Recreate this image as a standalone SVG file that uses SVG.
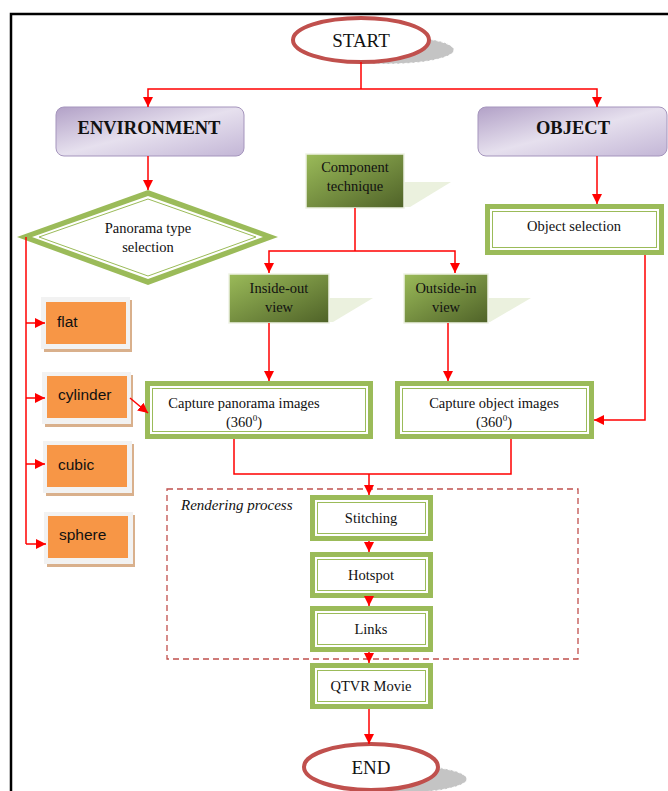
<svg xmlns="http://www.w3.org/2000/svg" width="668" height="791" viewBox="0 0 668 791">
<defs>
<linearGradient id="purple" x1="0" y1="0" x2="1" y2="1">
<stop offset="0" stop-color="#b2a1c7"/>
<stop offset="0.5" stop-color="#e6e0ee"/>
<stop offset="1" stop-color="#c3b6d6"/>
</linearGradient>
<linearGradient id="green" x1="0" y1="0" x2="1" y2="1">
<stop offset="0" stop-color="#9bbb59"/>
<stop offset="1" stop-color="#4f6228"/>
</linearGradient>
<marker id="arr" viewBox="0 0 10 10" refX="10" refY="5" markerWidth="10" markerHeight="10" markerUnits="userSpaceOnUse" orient="auto">
<path d="M0,0 L10,5 L0,10 z" fill="#ff0000"/>
</marker>
<style>
.frame{fill:none;stroke:#000;stroke-width:2.5}
.conn{fill:none;stroke:#ff0000;stroke-width:1.5}
.ca{fill:none;stroke:#ff0000;stroke-width:1.5;marker-end:url(#arr)}
.serif{font-family:"Liberation Serif","Times New Roman",serif;fill:#111;text-anchor:middle}
.t14{font-size:14.5px}
.sans{font-family:"Liberation Sans",Arial,sans-serif;font-size:15.5px;fill:#111}
.gthick{fill:#9bbb59}
.gwhite{fill:#fff}
.gthin{fill:none;stroke:#9bbb59;stroke-width:1}
.purple{fill:url(#purple);stroke:#a595bd;stroke-width:1}
.tech{fill:url(#green);stroke:#eef2e4;stroke-width:1.5}
.techshadow{fill:#ebf1de}
.oshadow{fill:#d9b08c}
.oframe{fill:#f2f2f2}
.orange{fill:#f79646}
.term{fill:#fff;stroke:#c0504d;stroke-width:4}
.tshadow{fill:#c4c4c4;stroke:#fff;stroke-width:1;stroke-dasharray:3 2}
</style>
</defs>
<rect width="668" height="791" fill="#fff"/>
<path class="frame" d="M11,791 L11,14 L668,14"/>

<g id="start">
<ellipse class="tshadow" cx="386" cy="50" rx="68" ry="14"/>
<ellipse class="term" cx="361" cy="40" rx="68" ry="22"/>
<text class="serif" x="361" y="47" font-size="19">START</text>
</g>

<g id="environment">
<rect class="purple" x="56" y="107" width="188" height="49" rx="8"/>
<text class="serif" x="149" y="134" font-size="18.5" font-weight="bold">ENVIRONMENT</text>
</g>

<g id="object">
<rect class="purple" x="478" y="107" width="189" height="49" rx="8"/>
<text class="serif" x="573" y="134" font-size="18.5" font-weight="bold">OBJECT</text>
</g>

<g id="panorama-type">
<polygon points="148,190 278,237 148,285 17,237" fill="#9bbb59"/>
<polygon points="148,196 263,237 148,279 32,237" fill="#fff"/>
<polygon points="148,199 256,237 148,276 39,237" class="gthin"/>
<text class="serif t14" x="148" y="233">Panorama type</text>
<text class="serif t14" x="148" y="252">selection</text>
</g>

<g id="component">
<polygon class="techshadow" points="400,182 451,182 410,207 400,207"/>
<rect class="tech" x="306" y="154" width="98" height="54"/>
<text class="serif t14" x="355" y="172">Component</text>
<text class="serif t14" x="355" y="191">technique</text>
</g>

<g id="inside-out">
<polygon class="techshadow" points="325,298 373,298 333,322 325,322"/>
<rect class="tech" x="229" y="274" width="100" height="49"/>
<text class="serif t14" x="279" y="293">Inside-out</text>
<text class="serif t14" x="279" y="312">view</text>
</g>

<g id="outside-in">
<polygon class="techshadow" points="484,298 531,298 490,322 484,322"/>
<rect class="tech" x="404" y="274" width="84" height="49"/>
<text class="serif t14" x="446" y="293">Outside-in</text>
<text class="serif t14" x="446" y="312">view</text>
</g>

<g id="object-selection">
<rect class="gthick" x="485" y="204" width="179" height="51"/>
<rect class="gwhite" x="490" y="209" width="169" height="41"/>
<rect class="gthin" x="492.5" y="211.5" width="164" height="36"/>
<text class="serif t14" x="574" y="231">Object selection</text>
</g>

<g id="flat">
<rect class="oshadow" x="44" y="300" width="88" height="52"/>
<rect class="oframe" x="41" y="297" width="89" height="52"/>
<rect class="orange" x="46" y="302" width="80" height="42"/>
<text class="sans" x="57" y="327">flat</text>
</g>
<g id="cylinder">
<rect class="oshadow" x="45" y="375" width="88" height="52"/>
<rect class="oframe" x="42" y="372" width="89" height="52"/>
<rect class="orange" x="47" y="376" width="80" height="42"/>
<text class="sans" x="58" y="400">cylinder</text>
</g>
<g id="cubic">
<rect class="oshadow" x="46" y="444" width="88" height="52"/>
<rect class="oframe" x="43" y="441" width="89" height="52"/>
<rect class="orange" x="47" y="445" width="80" height="42"/>
<text class="sans" x="58" y="470">cubic</text>
</g>
<g id="sphere">
<rect class="oshadow" x="47" y="515" width="88" height="52"/>
<rect class="oframe" x="44" y="512" width="89" height="52"/>
<rect class="orange" x="48" y="516" width="80" height="42"/>
<text class="sans" x="59" y="540">sphere</text>
</g>

<g id="capture-panorama">
<rect class="gthick" x="145" y="381" width="228" height="58"/>
<rect class="gwhite" x="150" y="386" width="218" height="48"/>
<rect class="gthin" x="152.5" y="388.5" width="213" height="43"/>
<text class="serif t14" x="244" y="408">Capture panorama images</text>
<text class="serif t14" x="244" y="427">(360<tspan font-size="9" dy="-6">0</tspan><tspan dy="6">)</tspan></text>
</g>

<g id="capture-object">
<rect class="gthick" x="395" y="381" width="199" height="58"/>
<rect class="gwhite" x="400" y="386" width="189" height="48"/>
<rect class="gthin" x="402.5" y="388.5" width="184" height="43"/>
<text class="serif t14" x="494" y="408">Capture object images</text>
<text class="serif t14" x="494" y="427">(360<tspan font-size="9" dy="-6">0</tspan><tspan dy="6">)</tspan></text>
</g>

<g id="rendering-process">
<rect x="167" y="489" width="411" height="170" fill="none" stroke="#c0504d" stroke-width="1.3" stroke-dasharray="6 4"/>
<text x="181" y="510" font-family="'Liberation Serif','Times New Roman',serif" font-size="15" font-style="italic" fill="#111">Rendering process</text>
</g>

<g id="stitching">
<rect class="gthick" x="310" y="495" width="123" height="46"/>
<rect class="gwhite" x="315" y="500" width="113" height="36"/>
<rect class="gthin" x="317.5" y="502.5" width="108" height="31"/>
<text class="serif t14" x="371" y="523">Stitching</text>
</g>
<g id="hotspot">
<rect class="gthick" x="310" y="552" width="123" height="46"/>
<rect class="gwhite" x="315" y="557" width="113" height="36"/>
<rect class="gthin" x="317.5" y="559.5" width="108" height="31"/>
<text class="serif t14" x="371" y="580">Hotspot</text>
</g>
<g id="links">
<rect class="gthick" x="310" y="606" width="123" height="46"/>
<rect class="gwhite" x="315" y="611" width="113" height="36"/>
<rect class="gthin" x="317.5" y="613.5" width="108" height="31"/>
<text class="serif t14" x="371" y="634">Links</text>
</g>
<g id="qtvr">
<rect class="gthick" x="310" y="663" width="123" height="46"/>
<rect class="gwhite" x="315" y="668" width="113" height="36"/>
<rect class="gthin" x="317.5" y="670.5" width="108" height="31"/>
<text class="serif t14" x="371" y="691">QTVR Movie</text>
</g>

<g id="end">
<ellipse class="tshadow" cx="396" cy="779" rx="71" ry="14"/>
<ellipse class="term" cx="371" cy="767" rx="67" ry="23"/>
<text class="serif" x="371" y="774" font-size="19">END</text>
</g>

<g id="connectors">
<path class="conn" d="M361,62 L361,89"/>
<path class="ca" d="M361,89 L148,89 L148,107"/>
<path class="ca" d="M361,89 L597,89 L597,107"/>
<path class="ca" d="M148,156 L148,190"/>
<path class="ca" d="M597,156 L597,204"/>
<path class="conn" d="M26,237 L26,544"/>
<path class="ca" d="M26,323 L45,323"/>
<path class="ca" d="M26,398 L45,398"/>
<path class="ca" d="M26,464 L45,464"/>
<path class="ca" d="M26,544 L46,544"/>
<path class="ca" d="M130,398 L148,413"/>
<path class="conn" d="M355,208 L355,251"/>
<path class="ca" d="M355,251 L269,251 L269,273"/>
<path class="ca" d="M355,251 L455,251 L455,273"/>
<path class="ca" d="M269,323 L269,381"/>
<path class="ca" d="M448,323 L448,381"/>
<path class="ca" d="M645,255 L645,420 L594,420"/>
<path class="conn" d="M234,439 L234,474 L511,474 L511,439"/>
<path class="ca" d="M369,474 L369,495"/>
<path class="ca" d="M369,541 L369,552"/>
<path class="ca" d="M369,598 L369,606"/>
<path class="ca" d="M369,652 L369,663"/>
<path class="ca" d="M369,709 L369,744"/>
</g>
</svg>
